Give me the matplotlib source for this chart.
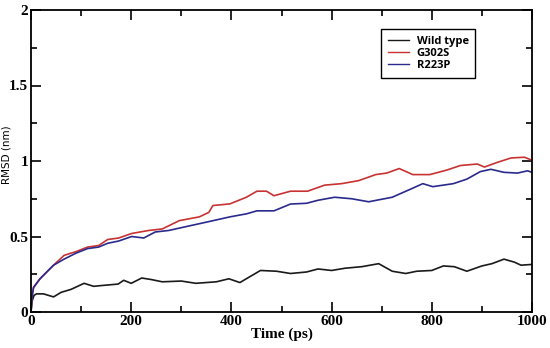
import matplotlib
matplotlib.use("Agg")
import matplotlib.pyplot as plt
from matplotlib.ticker import MultipleLocator, FuncFormatter

# Time (ps) and RMSD (nm)
wt_t = [0, 2, 6, 11, 25, 45, 60, 80, 106, 125, 140, 174, 185, 200, 221, 240, 262, 300, 329, 370, 395, 417, 440, 458, 490, 518, 550, 573, 600, 627, 660, 694, 721, 748, 770, 800, 823, 845, 870, 900, 920, 944, 965, 978, 1000]
wt_v = [0.0, 0.07, 0.11, 0.12, 0.12, 0.10, 0.13, 0.15, 0.19, 0.17, 0.175, 0.185, 0.21, 0.19, 0.225, 0.215, 0.20, 0.205, 0.19, 0.20, 0.22, 0.195, 0.24, 0.275, 0.27, 0.255, 0.265, 0.285, 0.275, 0.29, 0.30, 0.32, 0.27, 0.255, 0.27, 0.275, 0.305, 0.30, 0.27, 0.305, 0.32, 0.35, 0.33, 0.31, 0.315]

g_t = [0, 2, 5, 18, 30, 45, 66, 90, 113, 135, 153, 175, 201, 235, 262, 296, 336, 355, 363, 397, 430, 451, 470, 485, 518, 552, 586, 620, 654, 688, 710, 735, 762, 796, 830, 857, 891, 905, 930, 958, 985, 1000]
g_v = [0.0, 0.10, 0.165, 0.22, 0.26, 0.31, 0.375, 0.40, 0.43, 0.44, 0.48, 0.49, 0.52, 0.54, 0.55, 0.605, 0.63, 0.66, 0.705, 0.716, 0.76, 0.80, 0.80, 0.77, 0.80, 0.80, 0.84, 0.85, 0.87, 0.91, 0.92, 0.95, 0.91, 0.91, 0.94, 0.97, 0.98, 0.96, 0.99, 1.02, 1.025, 1.005]

r_t = [0, 2, 5, 18, 30, 45, 66, 90, 113, 135, 153, 175, 201, 225, 248, 275, 302, 350, 397, 430, 451, 485, 518, 550, 573, 606, 640, 674, 721, 762, 782, 802, 843, 870, 897, 918, 944, 971, 991, 1000]
r_v = [0.0, 0.10, 0.16, 0.22, 0.26, 0.31, 0.35, 0.39, 0.42, 0.43, 0.455, 0.47, 0.50, 0.49, 0.53, 0.54, 0.56, 0.595, 0.63, 0.65, 0.67, 0.67, 0.715, 0.72, 0.74, 0.76, 0.75, 0.73, 0.76, 0.82, 0.85, 0.83, 0.85, 0.88, 0.93, 0.945, 0.925, 0.92, 0.935, 0.925]

labels = ["Wild type", "G302S", "R223P"]
colors = ["#1a1a1a", "#c83232", "#2a2a8c"]

fig = plt.figure(figsize=(5.5, 3.48), dpi=100)
ax = fig.add_axes([31/550, 1 - 312/348, (532-31)/550, (312-10)/348])

ax.plot(wt_t, wt_v, color=colors[0], lw=1.2, label=labels[0])
ax.plot(g_t, g_v, color=colors[1], lw=1.2, label=labels[1])
ax.plot(r_t, r_v, color=colors[2], lw=1.2, label=labels[2])

ax.set_xlim(0, 1000)
ax.set_ylim(0, 2)
ax.xaxis.set_major_locator(MultipleLocator(200))
ax.xaxis.set_minor_locator(MultipleLocator(100))
ax.yaxis.set_major_locator(MultipleLocator(0.5))
ax.yaxis.set_minor_locator(MultipleLocator(0.25))
ax.tick_params(which="both", direction="in", top=True, right=True, width=1.2)
ax.tick_params(which="major", length=7)
ax.tick_params(which="minor", length=4)
ax.tick_params(axis="x", pad=2)
ax.tick_params(axis="y", pad=2)
for s in ax.spines.values():
    s.set_linewidth(1.3)

def fmt(v, p):
    return ("%g" % v)
ax.xaxis.set_major_formatter(FuncFormatter(fmt))
ax.yaxis.set_major_formatter(FuncFormatter(fmt))
for lab in ax.get_xticklabels() + ax.get_yticklabels():
    lab.set_fontfamily("Liberation Serif")
    lab.set_fontweight("bold")
    lab.set_fontsize(11)

ax.set_xlabel("Time (ps)", family="Liberation Serif", fontsize=11, fontweight="bold", labelpad=0)
ax.set_ylabel("RMSD (nm)", family="DejaVu Sans", fontsize=7.5)
ax.yaxis.set_label_coords(-0.038, 0.52)

leg = ax.legend(loc="upper left", bbox_to_anchor=((381-31)/501, 1 - (29-10)/302),
                frameon=True, fancybox=False, edgecolor="black", framealpha=1,
                prop={"family": "Open Sans", "weight": "bold", "size": 8},
                handlelength=1.9, handletextpad=0.7, borderpad=0.6, labelspacing=0.1,
                borderaxespad=0)
leg.get_frame().set_linewidth(1.0)
for l in leg.get_lines():
    l.set_linewidth(1.0)

fig.savefig("out.png", dpi=100)
